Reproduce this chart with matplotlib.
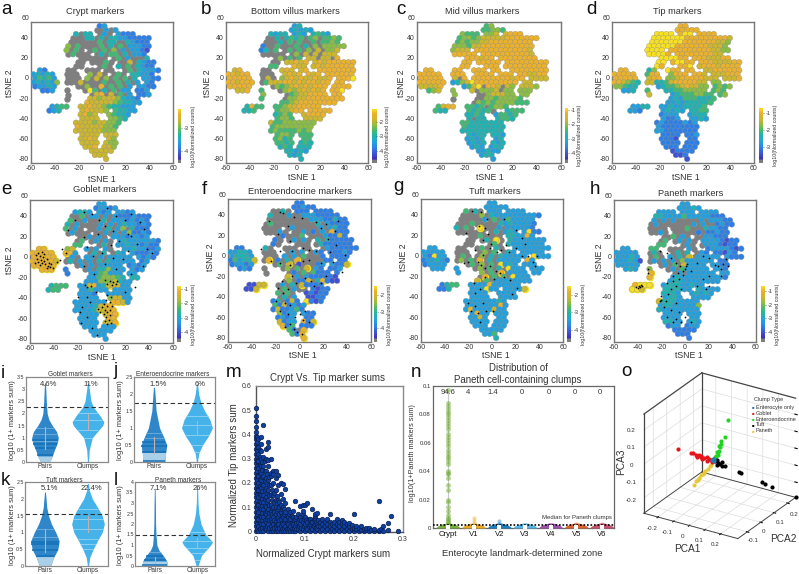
#!/usr/bin/env python3
"""Figure with tSNE marker maps, violin plots, crypt/tip scatter and a 3D PCA."""
import matplotlib
matplotlib.use("Agg")
import matplotlib.pyplot as plt
import numpy as np
from matplotlib.colors import LinearSegmentedColormap

plt.rcParams["font.family"] = ["Liberation Sans", "DejaVu Sans"]
plt.rcParams["axes.unicode_minus"] = False
TXT = "#333333"
W, H = 799, 574

# tSNE maps: one character per cell, digit = colour level 0-9, "." = no counts (grey)
ROW_Y = [56, 52, 48, 44, 40, 36, 32, 28, 24, 20, 16, 12, 8, 4, 0, -4, -8, -12, -16, -20, -24,
         -28, -32, -36, -40, -44, -48, -52, -56, -60, -64, -68, -72, -76]
CELL_X0, CELL_DX = -58, 4

CRYPT = [
    "              23",
    "             ..3.3",
    "         4.44 .3. 3222",
    "        ...44.4.443322222",
    "        ......5.44..43222",
    "       6.5....5.4.5.33322",
    "       6.5. .5.5.6.3.3321",
    "       .5... .4.55.4.332",
    "          ...... .5.3...4",
    "         .. ...5. ..7.4322",
    "         ..   .5. 4.5.4322",
    " 32    ..  ... ..  .5.43332",
    "34343  ...  6.7. .5. 44332",
    "35453  ... 6.7.6.5.5.4 3322",
    "343436 ...7....5..5.4.3 32 ",
    "23343    ..6..8.5.5.3 3322 ",
    "  223  .   .95.4.5.33 223  ",
    "       .    .78.7.5.3 223",
    "       .    77677764332",
    "           877777654433",
    "    3455  778776544333",
    "   234    787776 54433",
    "          7867  65443",
    "          7777  6654",
    "         7777677665",
    "         877777665",
    "         777777666",
    "          7777 777",
    "          7787  76",
    "          7777 766",
    "           778 776",
    "            77777",
    "             777",
    "               7",
]
BOTTOM = [
    "              34",
    "             34343",
    "         4344 343 4543",
    "        ..4.4545.56.5565",
    "        ...4.5.5..5.5565",
    "       2..5...5.4.6.66666",
    "       24.5 .5.5.6.7.667",
    "       ..... .6.7.7.777",
    "          .6.5.5 77.77.8",
    "         .. 77878 787888888",
    "         55   877 787888888",
    " 78    ..  787 78  88888888",
    "88788  ...  7878 878 888888",
    "88888  .7. 67878778778 8889",
    "887888 .57778878788788 88 ",
    "88888    .65678787888 8888 ",
    "  778  5   .676787878 889  ",
    "       6    .56778888 88",
    "       5    .667788888888",
    "           556788888888",
    "    4855  5567788888",
    "   445    566788 88888",
    "          4565  78888",
    "          5665  7777",
    "         7556666666",
    "         566666666",
    "         565555656",
    "          5665 555",
    "          5645  55",
    "          5545 454",
    "           454 444",
    "            44343",
    "             434",
    "               4",
]
MID = [
    "              56",
    "             55665",
    "         6555 667 7888",
    "        56656777778888888",
    "        5656677888888888",
    "       66657788888888888",
    "       6777 888888888887",
    "       88888 88888888887",
    "          888788 88888888",
    "         88 88888 888888888",
    "         88   888 888888888",
    " 88    88  888 88  88888888",
    "88888  888  8888 888 887788",
    "88888  7.8 88888888788 7777",
    "888888 34679888888888 77 ",
    "77778    3579.887.76 7776",
    "  567  6   7.6667.66 666",
    "       6    ..677766 66",
    "       .    ..66566665",
    "           .65656666555",
    "    5788  5545.5665",
    "   544    54545.  4555",
    "          4454  35545",
    "          4.44  4554",
    "         554444444",
    "         544444444",
    "         444444444",
    "          4344 443",
    "          3434  34",
    "          3434 434",
    "           343 344",
    "            33433",
    "             344",
    "               3",
]
TIP = [
    "              88",
    "             88888",
    "         9999 899 8888",
    "        99999998888888887",
    "        99999998888888776",
    "       99999988888887776",
    "       9999 8888888887766",
    "       99998 8888888877",
    "          999988 88877788",
    "         99 89988 888777788",
    "         98   889 788878888",
    " 88    46  988 88  77888888",
    "88888  588  6888 887 777888",
    "88888  788 66788888777 7778",
    "887654 7744578888877 66 ",
    "66544    34556787766 5656",
    "  334  5   445566666 565",
    "       7    345556655 56",
    "            3435554445",
    "           3343444445",
    "    3344  3343344445",
    "   332    34343 4455",
    "          2333  3444",
    "          3223  3343",
    "         232222323",
    "         322222222",
    "         332222222",
    "          2222 223",
    "          2221  22",
    "          2222 222",
    "           222 222",
    "            12222",
    "             112",
    "               1",
]
GOBLET = [
    "              33",
    "             23323",
    "         3443 323 3323",
    "        ..5.33.3.32223222",
    "        5..3...4.33323232",
    "       4.3....3.3.3433232",
    "       5.3. ..3.4.36.4222",
    "       .3... ..3.3.362232",
    "          ..3.3. 33323323",
    "         .5 .3.3. 343333332",
    "         55   .4. 334332322",
    " 88    67  3.3 3.  33433223",
    "88888  883  .4.4 .43 322232",
    "88888  .3. 33.3.33333 3232",
    "888887 .4.3.3.4.433333 23 ",
    "88888    .3.3.33333 2323 ",
    "  888  2   .3.446333 323",
    "       2    3356333 33",
    "            33566654 44",
    "           3336667433",
    "    4555  33783477733",
    "   455    335333 3333",
    "          3332  33333",
    "          3333  67733",
    "         3333333 8873",
    "         33334788",
    "         333347788",
    "          3333 788",
    "          3333  88",
    "          3333 778",
    "           333 333",
    "            33333",
    "             333",
    "               3",
]
ENTERO = [
    "              22",
    "             22322",
    "         ..4. 222 2222",
    "        4...3..33322222",
    "        .........33322422",
    "       .5.........4.32222",
    "       .... .3.....3.3422",
    "       ...3. ..3.2.3.8222",
    "          .2...5 ...32272",
    "         2. .3.3. 4.422222",
    "         2.   ... .4222222",
    " 22    4.  ... ..  .3222222",
    "33443  ...  .3.3 .32 22232",
    "34443  ... 3.3.5...2 2222",
    "253447 .8.2.4.8.....22 22",
    "23323    .5.7.1...23 3227",
    "  232  .   .6.5.7.32 223",
    "       .    .2.5.5222 2",
    "            7.3.3222221",
    "           .6.227.48211",
    "    1177  .3.4.72222",
    "   117    .5.3.. 2122",
    "          5.5.  12122",
    "          .4.3  1122",
    "         24.272 9212",
    "         5272323",
    "         2722352",
    "          6233 322",
    "          2323  22",
    "          7233 827",
    "           825 222",
    "            52.8",
    "             528",
    "               8",
]
TUFT = [
    "              33",
    "             33333",
    "         5.4. 333 3333",
    "        ....6.43333333332",
    "        .....3.5.3533333",
    "       ...5.....43433332",
    "       4.5. 9...3.333332",
    "       ...... .4.343 3922",
    "          ..5.... 443383",
    "         .. .4.9. 43333333",
    "         ..   .5. 43333333",
    " 33    ..  .5. 4.  33333333",
    "33333  ...  .6.5 .43 33333",
    "32933  .5. .6.4.433333 9333",
    "233432 .6.5.8.4.33333 83 ",
    "23333    .5.6.5.9343 333",
    "  333  3   .6.5.4.9333 333",
    "       3    6.5.8.3333 33",
    "            .8.5.5.9333",
    "           7.5.33333333",
    "    2455  33338333333",
    "   224    333933 33337",
    "          3333  3333",
    "          3333  3333",
    "         333333343",
    "         333333383",
    "         383333733",
    "          3833 333",
    "          3373  33",
    "          3333 333",
    "           333 333",
    "            33333",
    "             335",
    "               4",
]
PANETH = [
    "              33",
    "             33343",
    "         3333 333 3333",
    "        443333533333222",
    "        3.3.3.....3.33322",
    "       .3.......3.3..2322",
    "       .... ...5...43322",
    "       ..3. .....2.22322",
    "          ..5.3. ..33222",
    "         .5 .3.3. 33332122",
    "         55   .3. .3332122",
    " 33    55  ... 3.  23333212",
    "33333  .4.  .4.4 .32 22132",
    "33343  .5. 3.4.7.33333 3222",
    "333431 .3.3.3.6333333 22",
    "33333    .3.5.73333 3322",
    "  343  6   .3.533333 332",
    "       8    .3.333333 33",
    "       8    343333333332",
    "           34433333333",
    "    8999  344433433",
    "   997    444433 43333",
    "          4443  34343",
    "          3443  3333",
    "         744433333",
    "         344333336",
    "         433333333",
    "          3333 333",
    "          3333  33",
    "          4433 343",
    "           233 233",
    "            22222",
    "             222",
    "               2",
]

GOBLET_DOTS = [(-55, 6), (-54, 2), (-53, -1), (-52, 5), (-51, 1), (-50, -2), (-49, 4), (-48, 7), (-48, 0),
               (-47, -3), (-46, 2), (-45, -5), (-44, -2), (-43, -6), (-42, -3), (-56, -2), (-53, 8), (-50, 9),
               (-52, -4), (-46, -7), (-41, -7), (-37, -1), (-35, 1), (5, -33), (8, -35), (4, -38), (7, -40),
               (2, -42), (5, -44), (9, -44), (0, -45), (-3, -47), (3, -48), (7, -48), (-1, -50), (5, -50),
               (2, -52), (7, -53), (4, -55), (6, -57), (3, -58), (8, -60), (5, -61), (3, -18), (7, -19),
               (10, -20), (13, -19), (5, -22), (9, -23), (12, -22), (-14, -23), (-12, -25), (-9, -24),
               (-22, 40), (-28, 31), (-15, 48), (-8, 46), (5, 52), (-2, 40), (3, 35), (12, 44), (20, 40),
               (25, 46), (32, 38), (36, 32), (25, 25), (22, 27), (10, 30), (-3, 27), (-15, 24), (-12, 14),
               (-7, 5), (0, 8), (8, 16), (15, 20), (22, 10), (30, 17), (38, 12), (42, 8), (18, 2), (10, 3),
               (3, -3), (-6, -12), (-15, -5), (-30, 8), (-33, 12), (12, -8), (25, -12), (35, -5), (28, -25),
               (20, -30), (-20, -35), (-16, -45), (-12, -55), (-17, -60), (-8, -65), (-4, -72), (-10, -40),
               (-5, -30), (-18, -50), (-12, -35)]
ENTERO_DOTS = [(-16, 47), (-14, 46), (2, 41), (-5, 42), (-26, 38), (-10, 34), (22, 36), (14, 37), (32, 38),
               (18, 32), (30, 29), (-18, 26), (-8, 19), (24, 21), (31, 15), (3, 12), (8, 10), (-32, 11),
               (-16, 9), (-6, 9), (14, 9), (26, 8), (38, 5), (8, 0), (3, -1), (-24, -1), (-16, -3), (-8, -5),
               (18, -3), (28, -2), (36, -11), (-15, -20), (-6, -15), (5, -17), (10, -20), (22, -15),
               (-18, -27), (-14, -32), (-10, -28), (-3, -22), (18, -22), (-20, -40), (-12, -42), (-8, -44),
               (-16, -50), (-10, -53), (0, -53), (5, -50), (-4, -56), (-8, -62), (3, -58), (8, -60),
               (-12, -65), (-5, -67), (-2, -70), (2, -72), (12, -25)]
TUFT_DOTS = [(-17, 48), (-9, 47), (-4, 40), (-11, 34), (-6, 32), (-3, 26), (-22, 27), (-8, 20), (-1, 16),
             (10, 40), (20, 30), (25, 22), (28, 16), (12, 15), (-14, 10), (-8, 5), (-2, 12), (4, 8), (8, 10),
             (14, 8), (20, 12), (25, 4), (30, 4), (38, 4), (-24, -3), (-20, -2), (-12, -2), (-9, -5), (-6, -8),
             (-2, -6), (3, -10), (7, -12), (10, -16), (2, -18), (-6, -16), (-15, -22), (-10, -28), (-14, -32),
             (-20, -42), (-14, -45), (-18, -50), (-12, -52), (-8, -42), (-5, -50), (1, -50), (-10, -60),
             (35, -2), (36, -6), (15, -19), (21, -27), (17, -33)]
PANETH_DOTS = [(-41, -26), (-40, -27), (-39, -25), (-38, -26), (-37, -24), (-36, -25), (-31, -12), (-31, -8),
               (-21, -40), (-20, -39), (-21, 10), (-15, 8), (-12, 3), (-8, -2), (-4, -5), (0, -8), (1, -5),
               (-2, -10), (2, -3), (5, -10), (10, -2), (15, 5), (20, 3), (25, -4), (30, -8), (35, 2), (36, -5),
               (30, -15), (20, -15), (15, -18), (10, -25), (-5, -18), (-10, -20), (-15, -22), (-12, -28),
               (-14, -33), (-8, -25), (-3, -28), (18, -28), (-20, -35), (-18, -45), (-12, -48), (-8, -42),
               (-5, -50), (-15, -55), (-8, -57), (-3, -60), (0, -55), (5, -60), (-10, -60), (-16, -40),
               (-10, -15), (-6, -12), (-2, -14), (20, -25), (28, -5), (32, -3)]

# violins: half width of each violin at the listed marker sums
VIOLINS = [
    dict(title="Goblet markers", ymax=3.5, dash=2.25, pcts=("4.6%", "11%"),
         pairs_y=[0, .25, .5, .75, 1, 1.25, 1.5, 1.75, 2, 2.5, 3.25],
         pairs_w=[.1, .17, .22, .28, .31, .27, .17, .09, .05, .03, .012],
         clumps_y=[0, .5, 1, 1.25, 1.5, 1.65, 1.9, 2.25, 2.5, 3, 3.25],
         clumps_w=[.012, .03, .1, .22, .34, .37, .28, .13, .07, .03, .012],
         bands=[.3, .58, .75, .9], pale=[.85, 1.15, 1.4], white=[1.0, 1.3, 1.75, 2.0], light=.25, median=(1.0, 1.65)),
    dict(title="Enteroendocrine markers", ymax=2.5, dash=1.73, pcts=("1.5%", "6%"),
         pairs_y=[0, .25, .5, .75, 1, 1.25, 1.5, 2, 2.2],
         pairs_w=[.26, .27, .30, .22, .13, .09, .05, .025, .01],
         clumps_y=[0, .25, .5, .75, 1, 1.25, 1.5, 1.75, 2, 2.3],
         clumps_w=[.012, .04, .13, .26, .36, .3, .18, .09, .04, .012],
         bands=[.02, .3, .48, .6], pale=[.7, .85], white=[.3, .5, .8, 1.1, 1.35], light=.28, median=(.5, 1.0)),
    dict(title="Tuft markers", ymax=2.5, dash=1.55, pcts=("5.1%", "22.4%"),
         pairs_y=[0, .25, .5, .75, 1, 1.25, 1.5, 1.75, 2, 2.2],
         pairs_w=[.13, .2, .3, .33, .25, .15, .08, .04, .025, .01],
         clumps_y=[0, .25, .5, .75, 1, 1.25, 1.5, 1.75, 2, 2.25, 2.45],
         clumps_w=[.012, .04, .12, .22, .33, .38, .33, .22, .1, .03, .012],
         bands=[.3, .48, .65, .7], pale=[.85, 1.1], white=[.5, .65, .8, 1.1, 1.4, 1.7], light=.28, median=(.75, 1.25)),
    dict(title="Paneth markers", ymax=4, dash=1.5, pcts=("7.1%", "26%"),
         pairs_y=[0, .25, .5, .75, 1, 1.5, 2, 3, 3.7],
         pairs_w=[.3, .28, .2, .1, .05, .03, .02, .015, .008],
         clumps_y=[0, .5, 1, 1.15, 1.5, 2, 2.5, 3, 3.8],
         clumps_w=[.02, .1, .32, .36, .2, .09, .04, .02, .01],
         bands=[.03, .3, .48], pale=[.65], white=[.3, .6, .85, 1.2, 1.6], light=.24, median=(.3, 1.1)),
]

# crypt marker sum -> tip marker sums of the cells in that column
TIP_BY_CRYPT = {
    0.0: [0, .02, .04, .06, .08, .1, .12, .14, .16, .18, .2, .22, .24, .26, .28, .3, .32, .34, .36, .38, .395,
          .41, .43, .455, .475, .51],
    .0025: [.01, .03, .05, .07, .09, .11, .13, .15, .17, .19, .21, .23, .25, .27, .29, .31, .33, .35, .37, .39],
    .005: [0, .02, .05, .08, .11, .14, .17, .2, .23, .26, .29, .32, .35, .38],
    .0075: [.01, .035, .065, .095, .125, .155, .185, .215, .245, .275, .305, .335],
    .01: [0, .03, .06, .09, .12, .15, .18, .21, .24, .27, .3, .33, .36, .39],
    .0125: [.015, .045, .075, .105, .135, .165, .195, .225, .255, .285],
    .015: [0, .03, .06, .09, .12, .15, .19, .23, .27, .305, .44],
    .0175: [.015, .045, .075, .105, .135, .17, .21, .25, .29],
    .02: [.01, .04, .07, .1, .14, .18, .22, .25, .3, .34],
    .0225: [.02, .05, .085, .12, .16, .2, .235],
    .025: [0, .03, .06, .09, .13, .17, .21, .27, .295, .37, .35],
    .0275: [.015, .045, .075, .11, .15, .19, .225],
    .03: [0, .02, .05, .08, .11, .15, .19, .23, .24, .3],
    .0325: [.01, .04, .07, .095, .13, .17],
    .035: [0, .03, .06, .1, .15, .2, .25, .235],
    .0375: [.015, .045, .08, .12, .16],
    .04: [0, .02, .04, .07, .1, .13, .17, .22, .25],
    .0425: [.01, .03, .055, .085, .115, .145],
    .045: [0, .03, .06, .09, .13, .19, .232],
    .0475: [.015, .045, .07, .1, .12],
    .05: [0, .02, .05, .08, .11, .155, .2],
    .0525: [.01, .035, .065, .09],
    .055: [0, .03, .06, .1, .135, .195],
    .0575: [.015, .045, .07, .09],
    .06: [0, .02, .05, .08, .115, .175],
    .0625: [.01, .035, .065],
    .065: [0, .03, .06, .09],
    .0675: [.015, .045, .07],
    .07: [0, .02, .05, .08],
    .0725: [.01, .035, .065],
    .075: [0, .03, .06, .085],
    .0775: [.015, .045],
    .08: [0, .02, .05, .125],
    .0825: [.01, .035, .06],
    .085: [.01, .04, .07],
    .0875: [.02, .05],
    .09: [0, .03, .06, .105],
    .0925: [.015, .045],
    .095: [.01, .04, .07, .085, .11],
    .0975: [.02, .05],
    .1: [0, .03, .06, .11],
    .1025: [.015, .045],
    .105: [.01, .04, .115],
    .1075: [.02, .05],
    .11: [0, .03, .05],
    .1125: [.015, .04],
    .115: [.01, .04, .09],
    .1175: [.02, .05],
    .12: [0, .03, .05, .065, .07],
    .1225: [.015, .04],
    .125: [.01, .03, .075],
    .1275: [.02, .045],
    .13: [0, .02, .04],
    .135: [.01, .03, .05],
    .14: [0, .02, .04],
    .145: [.01, .03, .05],
    .15: [0, .02, .04, .07],
    .155: [.01, .03],
    .16: [0, .02, .04],
    .165: [.01, .03, .05],
    .17: [0, .02, .04],
    .175: [.01, .03, .045],
    .18: [0, .02, .04],
    .185: [.01, .03],
    .19: [0, .02, .035],
    .195: [.01, .025],
    .2: [0, .015, .07],
    .205: [.008, .02],
    .21: [0, .015],
    .215: [.005, .02],
    .22: [0, .01],
    .225: [.005, .015],
    .23: [0, .012],
    .235: [.006],
    .24: [0, .01],
    .25: [0, .005, .125],
    .255: [.01],
    .26: [0, .02],
    .27: [.005, .035],
    .275: [.065],
    .29: [0],
}

ZONES = ["Crypt", "V1", "V2", "V3", "V4", "V5", "V6"]
ZONE_PCTS = ["94.6", "4", "1.4", "0", "0", "0", "0"]
ZONE_COLORS = ["#76ad3a", "#e6a825", "#1f7fc0", "#55b5e5", "#9a55a8", "#d8642e", "#c4526e"]
CRYPT_VALUES = [.097, .088, .086, .084, .082, .08, .078, .076, .074, .072, .07, .066, .064, .062, .06, .058,
                .055, .053, .051, .049, .047, .045, .04, .039, .038, .035, .03, .027, .02, .018, .015, .012,
                .009, .007, .006, .005, .004, .003, .002, .001]
VILLUS_VALUES = {2: [.007, .005, .003], 3: [.005, .003], 4: [.002], 5: [.002], 6: [.003], 7: [.003]}
BLOB_Y = [0, .0012, .0025, .0035]
BLOB_W = [.46, .42, .28, .08]
MEDIAN_PANETH = .002

PCA_GROUPS = {
    "Enterocyte only": ("#2a78b0", [.0, .005, -.005, .01], [.0, .005, .01, .0], [.0, .005, .0, -.005]),
    "Goblet": ("#e8141c",
               [-.217, -.134, -.125, -.106, -.095, -.085, -.078, -.07, -.062, -.05, -.04, -.03, -.019, -.01, 0],
               [0, 0, .005, 0, -.005, 0, .005, 0, -.005, 0, .005, -.005, 0, .005, 0],
               [.01, .006, .008, .005, .0, .01, -.002, .005, -.005, .0, .005, -.008, .0, -.005, -.01]),
    "Enteroendocrine": ("#22d422",
                        [0, 0, 0, .005, -.005, 0, .005, -.005, 0, .005, 0, -.005, 0],
                        [.119, .092, .068, .062, .055, .055, .046, .046, .036, .036, .026, .026, .015],
                        [.171, .086, .071, .062, .05, .044, .03, .02, .025, .012, .012, .0, .0]),
    "Tuft": ("#000000",
             [.048, .1, .108, .186, .197, .223, .31, .01, .02, .03, .015, .025, .035, .04],
             [.041, .083, .091, .156, .165, .187, .26, .008, .017, .025, .02, .01, .03, .03],
             [-.045, -.093, -.1, -.174, -.184, -.209, -.29, -.01, -.02, -.03, -.01, -.03, -.02, -.04]),
    "Paneth": ("#e6c83a",
               [-.117, -.105, -.092, -.082, -.071, -.062, -.05, -.04, -.029, -.02, -.009],
               [0, .005, 0, -.005, 0, .005, 0, -.005, 0, .005, 0],
               [-.174, -.155, -.139, -.125, -.106, -.098, -.0875, -.07, -.058, -.045, -.034]),
}

cmap = LinearSegmentedColormap.from_list("marker", [
    (0.0, "#7f7f7f"), (0.05, "#7f7f7f"), (0.07, "#3f2fb0"), (0.18, "#3f55d8"), (0.30, "#2a8ae8"),
    (0.41, "#20a8d8"), (0.50, "#1fb5a8"), (0.60, "#45ba6e"), (0.70, "#90bd3e"), (0.80, "#cdb72d"),
    (0.91, "#ecb02c"), (1.0, "#f6e020")])

fig = plt.figure(figsize=(W / 100, H / 100), dpi=100)


def box(x0, y0, x1, y1, **kw):
    return fig.add_axes([x0 / W, 1 - y1 / H, (x1 - x0) / W, (y1 - y0) / H], **kw)


def text(x, y, s, size=7, **kw):
    kw.setdefault("ha", "center")
    kw.setdefault("va", "center")
    kw.setdefault("color", TXT)
    fig.text(x / W, 1 - y / H, s, fontsize=size, **kw)


def frame(ax, color="#777777", lw=1.0):
    for s in ax.spines.values():
        s.set_color(color)
        s.set_linewidth(lw)


def tsne_panel(rect, rows, title, title_xy, xlab_xy, ylab_xy, cbar, dots=None, halo=False, tsize=6.7):
    ax = box(*rect)
    (cx0, cy0, cx1, cy1), vmin, vmax, ticks = cbar
    xs, ys, lev, gx, gy = [], [], [], [], []
    for r, (y, row) in enumerate(zip(ROW_Y, rows)):
        for i, ch in enumerate(row):
            if ch == " ":
                continue
            x = CELL_X0 + CELL_DX * i + (1.5 if r % 2 else 0)
            if ch == ".":
                gx.append(x)
                gy.append(y)
            else:
                xs.append(x)
                ys.append(y)
                lev.append(int(ch))
    xs, ys, lev = np.array(xs), np.array(ys), np.array(lev)
    vals = vmin + (0.07 + lev / 9 * 0.93) * (vmax - vmin)
    ax.scatter(gx, gy, s=21, color="#7f7f7f", linewidths=0, zorder=2)
    if halo:
        hot = lev >= 7
        ax.scatter(xs[hot], ys[hot], s=30, color="#f6e020", linewidths=0, zorder=2.5)
    ax.scatter(xs, ys, s=17, c=vals, cmap=cmap, vmin=vmin, vmax=vmax, edgecolors="#8f8f8f",
               linewidths=.25, zorder=3)
    if dots:
        ax.scatter([d[0] for d in dots], [d[1] for d in dots], s=1.6, color="black", linewidths=0, zorder=4)
    ax.set_xlim(-60, 60)
    ax.set_ylim(-80, 60)
    ax.set_xticks(range(-60, 61, 20))
    ax.set_yticks(range(-80, 61, 20))
    ax.tick_params(labelsize=5, length=0, pad=1.5, labelcolor=TXT)
    for lab in ax.get_yticklabels():
        lab.set_va("bottom")
    frame(ax)
    text(*title_xy, title, size=tsize)
    text(*xlab_xy, "tSNE 1", size=6.3)
    text(*ylab_xy, "tSNE 2", size=6.3, rotation=90)

    cax = box(cx0, cy0, cx1, cy1)
    cax.imshow(np.linspace(1, 0, 256)[:, None], aspect="auto", cmap=cmap,
               extent=[0, 1, vmin, vmax], vmin=0, vmax=1)
    cax.set_xticks([])
    cax.yaxis.tick_right()
    cax.set_yticks(ticks)
    cax.set_yticklabels([str(t) for t in ticks])
    cax.tick_params(labelsize=4, length=1, width=.4, pad=.8, labelcolor=TXT, color=TXT)
    for s in cax.spines.values():
        s.set_visible(False)
    text(cx1 + 12, (cy0 + cy1) / 2, "log10(Normalized counts)", size=3.8, rotation=90)


tsne_panel((31, 22, 173, 163), CRYPT, "Crypt markers", (95, 12), (102, 179), (10, 83),
           ((178, 109, 181, 163), -4.5, -2.17, [-3, -4]))
tsne_panel((226, 22, 368, 163), BOTTOM, "Bottom villus markers", (295, 12), (302, 178), (208, 83),
           ((372, 109, 376, 163), -4.86, -1.1, [-2, -3, -4]))
tsne_panel((417, 22, 561, 163), MID, "Mid villus markers", (482, 12), (490, 178), (402, 83),
           ((565, 108, 568, 163), -4.7, -.86, [-1, -2, -3, -4]))
tsne_panel((612, 22, 754, 163), TIP, "Tip markers", (677, 12), (686, 178), (600, 83),
           ((759, 108, 763, 163), -3.94, -.7, [-1, -2, -3]))
tsne_panel((30, 200, 173, 343), GOBLET, "Goblet markers", (105, 190), (102, 357), (10, 260),
           ((177, 286, 181, 342), -4.7, -.8, [-1, -2, -3, -4]), GOBLET_DOTS, True)
tsne_panel((228, 199, 371, 342), ENTERO, "Enteroendocrine markers", (300, 191), (303, 356), (211, 257),
           ((374, 286, 377, 342), -4.85, -1.45, [-2, -3, -4]), ENTERO_DOTS, True)
tsne_panel((421, 199, 563, 342), TUFT, "Tuft markers", (495, 191), (496, 356), (404, 257),
           ((567, 286, 571, 342), -4.7, -1.5, [-2, -3, -4]), TUFT_DOTS, True)
tsne_panel((614, 200, 756, 342), PANETH, "Paneth markers", (691, 193), (689, 356), (600, 257),
           ((761, 286, 765, 342), -4.7, -.65, [-1, -2, -3, -4]), PANETH_DOTS, True)

# --- violins i-l ---
VIOLIN_BOXES = [(26, 377, 108, 462), (134, 377, 215, 462), (25, 482, 108, 566), (135, 482, 215, 566)]
VIOLIN_XLIM = [(.558, 2.465), (.535, 2.42), (.535, 2.465), (.535, 2.42)]
VIOLIN_TITLE_X = [70, 173, 64, 178]
VIOLIN_YLABEL_X = [13, 121, 13, 121]
for v, rect, xlim, tx, lx in zip(VIOLINS, VIOLIN_BOXES, VIOLIN_XLIM, VIOLIN_TITLE_X, VIOLIN_YLABEL_X):
    ax = box(*rect)
    py, pw = np.array(v["pairs_y"]), np.array(v["pairs_w"])
    cy, cw = np.array(v["clumps_y"]), np.array(v["clumps_w"])
    ax.fill_betweenx(py, 1 - pw, 1 + pw, color="#2f86c9", linewidth=0)
    ax.fill_betweenx(cy, 2 - cw, 2 + cw, color="#45b2ea", linewidth=0)
    # sparse bottom of the pairs violin is paler
    mask = py <= v["light"]
    yy = np.append(py[mask], v["light"])
    ww = np.interp(yy, py, pw)
    ax.fill_betweenx(yy, 1 - ww, 1 + ww, color="#a9cfe9", linewidth=0)
    for b in v["bands"]:
        w = np.interp(b, py, pw)
        ax.plot([1 - w, 1 + w], [b, b], color="#1470b8", lw=1.1, solid_capstyle="butt")
    for b in v["pale"]:
        w = np.interp(b, py, pw)
        ax.plot([1 - w, 1 + w], [b, b], color="#7db6e0", lw=.5, solid_capstyle="butt")
    for b in v["white"]:
        w = np.interp(b, cy, cw)
        ax.plot([2 - w, 2 + w], [b, b], color="#a5dcf6", lw=.5, solid_capstyle="butt")
    ax.plot([1, 1], [v["median"][0] * .55, v["median"][0] * 1.45], color="#c4b0ac", lw=.8)
    ax.plot([2, 2], [v["median"][1] * .8, v["median"][1] * 1.2], color="#c4b0ac", lw=.8)
    ax.axhline(v["dash"], color="#333333", lw=.8, dashes=(4, 2.5))
    ax.set_xlim(*xlim)
    ax.set_ylim(0, v["ymax"])
    ax.set_xticks([1, 2])
    ax.set_xticklabels(["Pairs", "Clumps"])
    yt = np.arange(0, v["ymax"] + .01, .5)
    ax.set_yticks(yt)
    ax.set_yticklabels([f"{t:g}" for t in yt])
    ax.tick_params(axis="x", labelsize=4.7, length=0, pad=1, labelcolor=TXT)
    ax.tick_params(axis="y", labelsize=3.8, length=0, pad=1, labelcolor=TXT)
    frame(ax, "#8a8a8a", .9)
    text(tx, rect[1] - 2, v["title"], size=4.7)
    x1 = rect[0] + (1 - xlim[0]) / (xlim[1] - xlim[0]) * (rect[2] - rect[0]) + 4
    x2 = rect[0] + (2 - xlim[0]) / (xlim[1] - xlim[0]) * (rect[2] - rect[0]) + 3
    text(x1, rect[1] + 7, v["pcts"][0], size=5.5)
    text(x2, rect[1] + 7, v["pcts"][1], size=5.5)
    text(lx, (rect[1] + rect[3]) / 2 + 1, "log10 (1+ markers sum)", size=5.4, rotation=90)

# --- scatter m ---
ax = box(256, 386, 403, 532)
for cx, tips in TIP_BY_CRYPT.items():
    ax.scatter([cx] * len(tips), tips, s=11, color="#10409f", edgecolors="#0b1c45", linewidths=.45,
               clip_on=False, zorder=3)
ax.set_xlim(0, .3)
ax.set_ylim(-.003, .6)
ax.set_xticks([0, .1, .2, .3])
ax.set_xticklabels(["0", "0.1", "0.2", "0.3"])
ax.set_yticks([0, .1, .2, .3, .4, .5, .6])
ax.set_yticklabels(["0", "0.1", "0.2", "0.3", "0.4", "0.5", "0.6"])
ax.tick_params(labelsize=5, length=0, pad=3, labelcolor=TXT)
frame(ax, "#8a8a8a", 1)
ax.spines["left"].set_color("#555555")
ax.spines["bottom"].set_color("#555555")
text(327, 378, "Crypt Vs. Tip marker sums", size=7)
text(323, 554, "Normalized Crypt markers sum", size=7)
text(234, 465, "Normalized Tip markers sum", size=7, rotation=90)

# --- zones n ---
ax = box(433, 386, 614, 528)
ax.plot([1, 1], [0, .097], color="#c8c8c8", lw=.8, zorder=1)
ax.scatter([1] * len(CRYPT_VALUES), CRYPT_VALUES, s=12, color=ZONE_COLORS[0], alpha=.55, linewidths=0, zorder=2)
for i, col in enumerate(ZONE_COLORS, start=1):
    w = np.array(BLOB_W)
    ax.fill_between(i + np.concatenate([-w, w[::-1]]), 0, BLOB_Y + BLOB_Y[::-1], color=col, linewidth=0, zorder=3)
    ax.scatter([i], [.0006], s=6, marker="s", color="white", linewidths=0, zorder=5)
for i, vals in VILLUS_VALUES.items():
    ax.scatter([i] * len(vals), vals, s=9, color=ZONE_COLORS[i - 1], alpha=.45, linewidths=0, zorder=2)
ax.axhline(MEDIAN_PANETH, color="black", lw=1.2, ls=(0, (1, 1.1)), zorder=4)
ax.set_xlim(.416, 7.47)
ax.set_ylim(0, .1)
ax.set_xticks(range(1, 8))
ax.set_xticklabels(ZONES)
ax.set_yticks([0, .02, .04, .06, .08, .1])
ax.set_yticklabels(["0", "0.02", "0.04", "0.06", "0.08", "0.1"])
ax.tick_params(axis="x", labelsize=5.6, length=0, pad=2, labelcolor="#111111")
ax.tick_params(axis="y", labelsize=4.3, length=0, pad=1.5, labelcolor=TXT)
frame(ax, "#666666", .9)
for x, p in zip([448, 468, 493, 522, 549, 575, 600], ZONE_PCTS):
    text(x, 392, p, size=5.5)
text(518, 368, "Distribution of", size=6.9)
text(518, 380, "Paneth cell-containing clumps", size=6.9)
text(577, 517, "Median for Paneth clumps", size=4.3)
text(522, 553, "Enterocyte landmark-determined zone", size=6.8)
text(413, 453, "log10(1+Paneth markers sum)", size=5.2, rotation=90)

# --- 3D PCA o ---
ax = box(612, 356, 822, 561, projection="3d", proj_type="ortho")
ax.patch.set_alpha(0)
ax.view_init(elev=26, azim=-58.4)
for name, (col, px_, py_, pz_) in PCA_GROUPS.items():
    ax.scatter(px_, py_, pz_, s=9, color=col, depthshade=False, linewidths=0)
XL, YL, ZL = (-.29, .31), (-.17, .26), (-.29, .295)
# cube frame
for (xa, ya), (xb, yb) in [((XL[0], YL[0]), (XL[1], YL[0])), ((XL[1], YL[0]), (XL[1], YL[1])),
                           ((XL[0], YL[0]), (XL[0], YL[1])), ((XL[0], YL[1]), (XL[1], YL[1]))]:
    ax.plot([xa, xb], [ya, yb], [ZL[0], ZL[0]], color="#444444", lw=.7)
for (xa, ya), (xb, yb) in [((XL[0], YL[0]), (XL[0], YL[1])), ((XL[0], YL[1]), (XL[1], YL[1]))]:
    ax.plot([xa, xb], [ya, yb], [ZL[1], ZL[1]], color="#444444", lw=.9)
for xa, ya in [(XL[0], YL[0]), (XL[0], YL[1])]:
    ax.plot([xa, xa], [ya, ya], list(ZL), color="#444444", lw=.9)
ax.set_xlim(*XL)
ax.set_ylim(*YL)
ax.set_zlim(*ZL)
ax.set_xticks([-.2, -.1, 0, .1, .2])
ax.set_yticks([-.1, 0, .1, .2])
ax.set_zticks([-.2, -.1, 0, .1, .2])
ax.set_xticklabels([])
ax.set_yticklabels([])
ax.set_zticklabels([])
ax.tick_params(length=0)
for axis in (ax.xaxis, ax.yaxis, ax.zaxis):
    axis.set_pane_color((1, 1, 1, 0))
    axis.pane.set_edgecolor((1, 1, 1, 0))
    axis.line.set_color((1, 1, 1, 0))
    axis._axinfo["grid"]["color"] = "#dddddd"
    axis._axinfo["grid"]["linewidth"] = .5
ax.set_box_aspect((1, 1, 1), zoom=.905)
for s, (x, y) in zip(["-0.2", "-0.1", "0", "0.1", "0.2"],
                     [(651.7, 528.3), (667, 532.7), (682.7, 536), (699, 540.7), (715.3, 545)]):
    text(x, y, s, size=4.5)
for s, (x, y) in zip(["-0.1", "0", "0.1", "0.2"], [(753.3, 540.7), (764, 531.7), (780, 522.7), (794, 514)]):
    text(x, y, s, size=4.5)
for s, y in zip(["0.2", "0.1", "0", "-0.1", "-0.2"], [430, 447.7, 465.7, 483, 500.7]):
    text(631, y, s, size=4.5)
text(687, 549, "PCA1", size=7.3)
text(783, 539, "PCA2", size=7.3)
text(621, 462, "PCA3", size=7.3, rotation=90)
text(769, 400, "Clump Type", size=4)
for (name, (col, *_)), y in zip(PCA_GROUPS.items(), [407.5, 413.5, 419.5, 425, 431]):
    fig.text(753 / W, 1 - y / H, "\u25a0", color=col, fontsize=3, ha="center", va="center")
    text(756, y, name, size=4, ha="left")

# --- panel letters ---
LETTERS = {"a": (1, 14), "b": (201, 14), "c": (396, 14), "d": (586, 14), "e": (1, 194), "f": (202, 194),
           "g": (393, 191), "h": (590, 194), "i": (1, 378), "j": (113, 375), "k": (1, 485), "l": (114, 485),
           "m": (226, 377), "n": (411, 377), "o": (621, 376)}
for s, (x, y) in LETTERS.items():
    fig.text(x / W, 1 - y / H, s, fontsize=13.5, color="#111111", ha="left", va="baseline")

fig.savefig("out.png", dpi=100)
plt.close(fig)
